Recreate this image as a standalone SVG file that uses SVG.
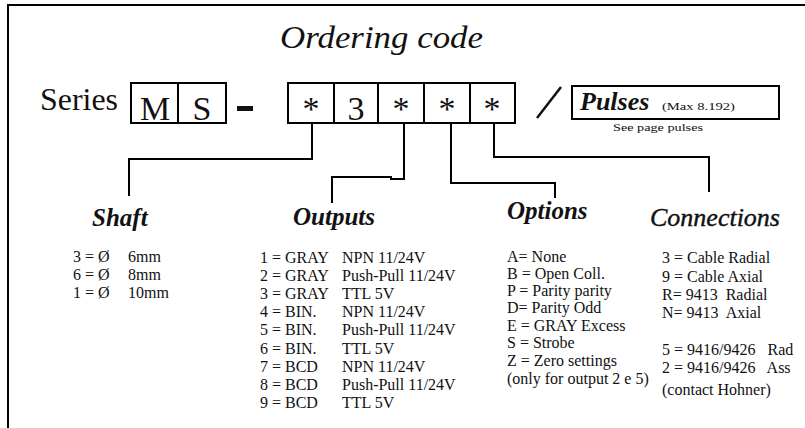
<svg xmlns="http://www.w3.org/2000/svg" width="805" height="428" viewBox="0 0 805 428" font-family="'Liberation Serif', 'Times New Roman', serif">
<style>
text{font-family:'Liberation Serif','Times New Roman',serif;fill:#111}
.ln{fill:none;stroke:#000;stroke-width:2}
.bx{fill:#fff;stroke:#000;stroke-width:2}
.big{font-size:34px}
.ser{font-size:31px}
.hd{font-size:25px;font-style:italic;font-weight:bold}
.body{font-size:16px}
.sm{font-size:11px}
</style>
<rect width="805" height="428" fill="#fff"/>
<path class="ln" d="M8,428 V5 H805"/>
<g id="title">
<text x="280" y="48" font-size="31" font-style="italic" textLength="203" lengthAdjust="spacingAndGlyphs">Ordering code</text>
</g>
<g id="series">
<text class="ser" x="40" y="110" textLength="78" lengthAdjust="spacingAndGlyphs">Series</text>
<rect class="bx" x="131" y="83" width="95" height="40"/>
<line class="ln" x1="178" y1="83" x2="178" y2="123"/>
<text class="big" x="155" y="120" text-anchor="middle">M</text>
<text class="big" x="202" y="120" text-anchor="middle">S</text>
<rect x="237" y="106" width="16" height="5" fill="#111"/>
</g>
<g id="code">
<rect class="bx" x="288" y="83" width="227" height="40"/>
<line class="ln" x1="334" y1="83" x2="334" y2="123"/>
<line class="ln" x1="378" y1="83" x2="378" y2="123"/>
<line class="ln" x1="424" y1="83" x2="424" y2="123"/>
<line class="ln" x1="470" y1="83" x2="470" y2="123"/>
<text class="big" x="311" y="120" text-anchor="middle">*</text>
<text class="big" x="356" y="120" text-anchor="middle">3</text>
<text class="big" x="401" y="120" text-anchor="middle">*</text>
<text class="big" x="447" y="120" text-anchor="middle">*</text>
<text class="big" x="492" y="120" text-anchor="middle">*</text>
<line x1="537" y1="118" x2="561" y2="87" stroke="#111" stroke-width="2.5"/>
</g>
<g id="pulses">
<rect class="bx" x="572" y="86" width="207" height="33"/>
<text x="580" y="110" font-size="26" font-style="italic" font-weight="bold">Pulses</text>
<text class="sm" x="662" y="110" textLength="73" lengthAdjust="spacingAndGlyphs">(Max 8.192)</text>
<text class="sm" x="613" y="131" textLength="90" lengthAdjust="spacingAndGlyphs">See page pulses</text>
</g>
<g id="connectors">
<path class="ln" d="M312,123 V159 H129 V196"/>
<path class="ln" d="M404,123 V179 H391 V177 H332 V203"/>
<path class="ln" d="M451,123 V183 H555 V198"/>
<path class="ln" d="M494,123 V157 H709 V192"/>
</g>
<g id="shaft">
<text class="hd" x="92" y="226">Shaft</text>
<g class="body">
<text class="body" x="73" y="262">3 = Ø</text><text class="body" x="128" y="262">6mm</text>
<text class="body" x="73" y="280">6 = Ø</text><text class="body" x="128" y="280">8mm</text>
<text class="body" x="73" y="298">1 = Ø</text><text class="body" x="128" y="298">10mm</text>
</g>
</g>
<g id="outputs">
<text class="hd" x="293" y="225">Outputs</text>
<g>
<text class="body" x="260" y="263">1 = GRAY</text><text class="body" x="342" y="263">NPN 11/24V</text>
<text class="body" x="260" y="281">2 = GRAY</text><text class="body" x="342" y="281">Push-Pull 11/24V</text>
<text class="body" x="260" y="299">3 = GRAY</text><text class="body" x="342" y="299">TTL 5V</text>
<text class="body" x="260" y="317">4 = BIN.</text><text class="body" x="342" y="317">NPN 11/24V</text>
<text class="body" x="260" y="335">5 = BIN.</text><text class="body" x="342" y="335">Push-Pull 11/24V</text>
<text class="body" x="260" y="354">6 = BIN.</text><text class="body" x="342" y="354">TTL 5V</text>
<text class="body" x="260" y="372">7 = BCD</text><text class="body" x="342" y="372">NPN 11/24V</text>
<text class="body" x="260" y="390">8 = BCD</text><text class="body" x="342" y="390">Push-Pull 11/24V</text>
<text class="body" x="260" y="408">9 = BCD</text><text class="body" x="342" y="408">TTL 5V</text>
</g>
</g>
<g id="options">
<text class="hd" x="507" y="219">Options</text>
<g>
<text class="body" x="507" y="262">A= None</text>
<text class="body" x="507" y="279">B = Open Coll.</text>
<text class="body" x="507" y="296">P = Parity parity</text>
<text class="body" x="507" y="313">D= Parity Odd</text>
<text class="body" x="507" y="331">E = GRAY Excess</text>
<text class="body" x="507" y="348">S = Strobe</text>
<text class="body" x="507" y="366">Z = Zero settings</text>
<text class="body" x="507" y="384">(only for output 2 e 5)</text>
</g>
</g>
<g id="connections">
<text x="650" y="226" font-size="26" font-style="italic" stroke="#111" stroke-width="0.4" textLength="130" lengthAdjust="spacingAndGlyphs">Connections</text>
<g>
<text class="body" x="662" y="263">3 = Cable Radial</text>
<text class="body" x="662" y="282">9 = Cable Axial</text>
<text class="body" x="662" y="300" xml:space="preserve">R= 9413  Radial</text>
<text class="body" x="662" y="318" xml:space="preserve">N= 9413  Axial</text>
<text class="body" x="662" y="355" xml:space="preserve">5 = 9416/9426   Rad</text>
<text class="body" x="662" y="373" xml:space="preserve">2 = 9416/9426   Ass</text>
<text class="body" x="662" y="395">(contact Hohner)</text>
</g>
</g>
</svg>
